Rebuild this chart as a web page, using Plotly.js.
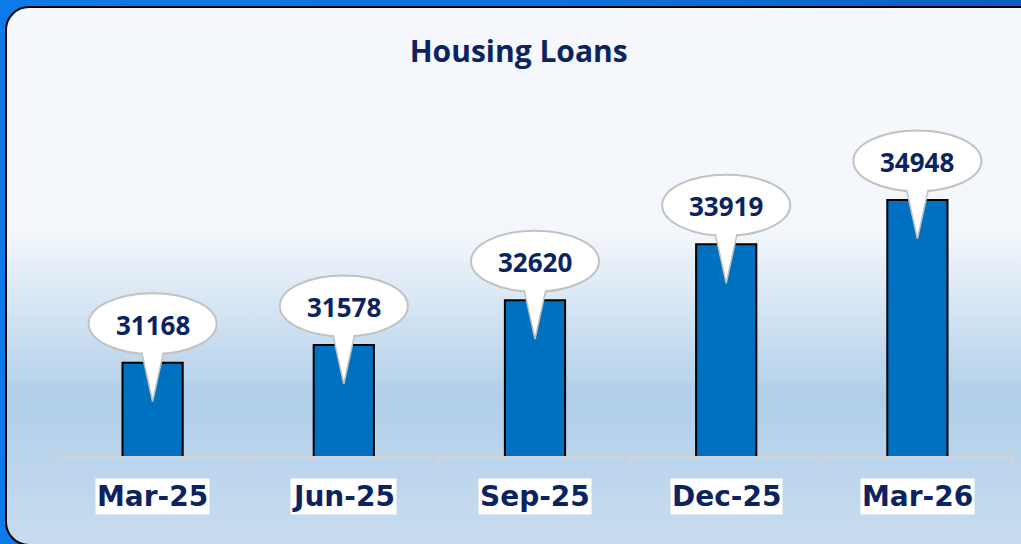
<!DOCTYPE html>
<html>
<head>
<meta charset="utf-8">
<script src="https://cdn.plot.ly/plotly-3.0.1.min.js"></script>
<style>
  html, body { margin: 0; padding: 0; }
  body {
    width: 1021px; height: 544px; overflow: hidden; position: relative;
    background: linear-gradient(90deg, #0c7be9 0%, #0a72dc 60%, #0a5cc2 100%);
  }
  #panel {
    position: absolute; left: 5px; top: 6px; width: 1040px; height: 540px;
    box-sizing: border-box; border: 2px solid #000; border-radius: 24px;
    background: linear-gradient(180deg, #f5f9fd 0%, #f3f7fc 42%, #b1cfe9 72.5%, #c8dcef 100%);
  }
  #chart { position: absolute; left: 0; top: 0; width: 1021px; height: 544px; }
</style>
</head>
<body>
<div id="panel"></div>
<div id="chart"></div>
<script>
const categories = ['Mar-25', 'Jun-25', 'Sep-25', 'Dec-25', 'Mar-26'];
const values = [31168, 31578, 32620, 33919, 34948];
const chartTitle = 'Housing Loans';

const navy = '#0c2362';

const shapes = [];
const annotations = [];
categories.forEach(function (cat, i) {
  const v = values[i];
  // callout ellipse
  shapes.push({
    type: 'circle', layer: 'above',
    xref: 'x', yref: 'y', xsizemode: 'pixel', ysizemode: 'pixel',
    xanchor: i, yanchor: v,
    x0: -64, x1: 64, y0: 8.5, y1: 69.5,
    fillcolor: '#ffffff', line: { color: '#c2c2c2', width: 2 }
  });
  // callout pointer
  shapes.push({
    type: 'path', layer: 'above',
    xref: 'x', yref: 'y', xsizemode: 'pixel', ysizemode: 'pixel',
    xanchor: i, yanchor: v,
    path: 'M -13 20 L 0 -39 L 13 20 Z',
    fillcolor: '#ffffff', line: { color: '#c2c2c2', width: 1.5 }
  });
  // cover to join pointer and ellipse
  shapes.push({
    type: 'circle', layer: 'above',
    xref: 'x', yref: 'y', xsizemode: 'pixel', ysizemode: 'pixel',
    xanchor: i, yanchor: v,
    x0: -62.5, x1: 62.5, y0: 10, y1: 68,
    fillcolor: '#ffffff', line: { width: 0 }
  });
  // value label
  annotations.push({
    x: i, y: v, xref: 'x', yref: 'y', yshift: 38,
    text: '<b>' + v + '</b>', showarrow: false,
    font: { family: 'Open Sans, sans-serif', size: 26, color: navy },
    xanchor: 'center', yanchor: 'middle'
  });
  // category label with white box
  annotations.push({
    x: i, y: -0.1135, xref: 'x', yref: 'paper',
    text: '<b>' + cat + '</b>', showarrow: false,
    font: { family: 'DejaVu Sans, sans-serif', size: 28, color: navy },
    bgcolor: '#ffffff', borderpad: 1,
    xanchor: 'center', yanchor: 'middle'
  });
});

const trace = {
  type: 'bar',
  x: [0, 1, 2, 3, 4],
  y: values,
  width: 0.315,
  marker: { color: '#0070c0', line: { color: '#000000', width: 2 } },
  hoverinfo: 'skip'
};

const layout = {
  width: 1021, height: 544,
  margin: { l: 57, r: 8, t: 100, b: 88 },
  paper_bgcolor: 'rgba(0,0,0,0)',
  plot_bgcolor: 'rgba(0,0,0,0)',
  showlegend: false,
  title: {
    text: '<b>' + chartTitle + '</b>',
    font: { family: 'Open Sans, sans-serif', size: 30, color: navy },
    xref: 'container', x: 0.508, xanchor: 'center',
    yref: 'container', y: 0.905, yanchor: 'middle'
  },
  xaxis: {
    type: 'linear', range: [-0.5, 4.5],
    tickvals: [-0.5, 0.5, 1.5, 2.5, 3.5, 4.5],
    showticklabels: false,
    ticks: 'outside', ticklen: 10, tickwidth: 2, tickcolor: '#d3d3d3',
    showline: true, linecolor: '#d3d3d3', linewidth: 2,
    showgrid: false, zeroline: false, fixedrange: true
  },
  yaxis: {
    range: [29000, 37270], visible: false, showgrid: false, zeroline: false, fixedrange: true
  },
  shapes: shapes,
  annotations: annotations
};

Plotly.newPlot('chart', [trace], layout, { displayModeBar: false, staticPlot: true });
</script>
</body>
</html>
